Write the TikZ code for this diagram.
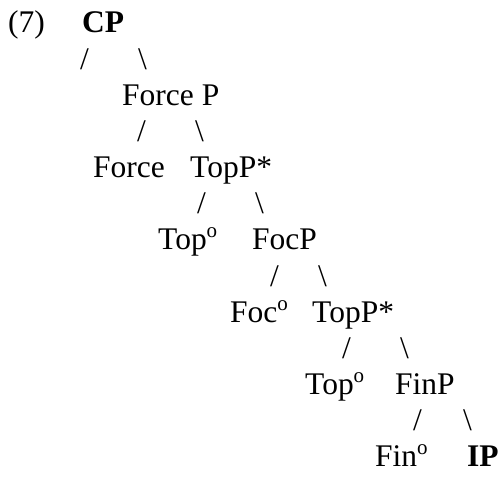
\documentclass[tikz,border=0pt]{standalone}
\usepackage{fontspec}
\setmainfont{Liberation Serif}

\newcommand{\supo}{\raisebox{12pt}{\fontsize{21}{21}\selectfont o}}
\tikzset{
	lbl/.style={anchor=base west, inner sep=0pt, font=\fontsize{31.5}{36}\selectfont},
}

\begin{document}
\begin{tikzpicture}[x=1pt, y=-1pt]
\useasboundingbox (0,0) rectangle (500,476);

% labels, one row every 72.3
\foreach \nm/\x/\r/\txt in {ex/8/0/(7), cp/82/0/\textbf{CP}, forceP/122/1/Force P, force/93/2/Force, topPa/190/2/TopP*, topa/158/3/Top\supo, focP/252/3/FocP, foc/230/4/Foc\supo, topPb/312/4/TopP*, topb/305/5/Top\supo, finP/395/5/FinP, fin/375/6/Fin\supo, ip/467/6/\textbf{IP}}{
	\node[lbl] (\nm) at (\x, 33+72.3*\r) {\txt};
}

% branches, half a row below
\foreach \r/\xa/\xb in {0/80/138, 1/137/195, 2/197/255, 3/270/318, 4/342/400, 5/413/463}{
	\node[lbl] (l\r) at (\xa, 69.2+72.3*\r) {/};
	\node[lbl] (r\r) at (\xb, 69.2+72.3*\r) {\textbackslash};
}
\end{tikzpicture}
\end{document}
